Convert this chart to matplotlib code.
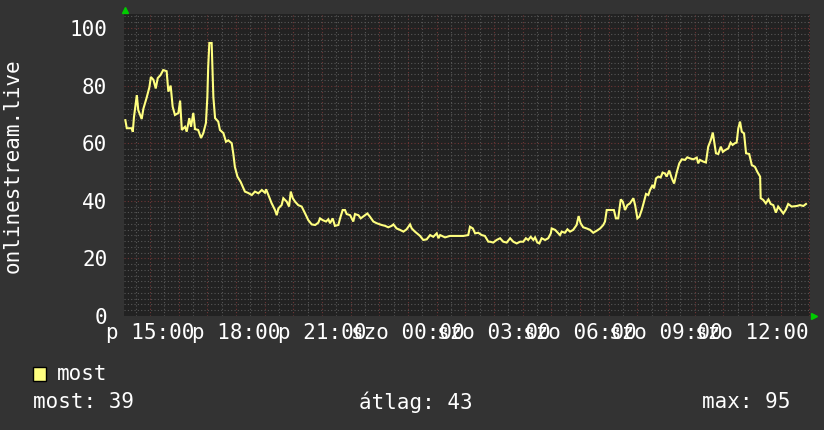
import matplotlib
matplotlib.use("Agg")
import matplotlib.pyplot as plt
from matplotlib.lines import Line2D
from matplotlib.patches import Rectangle
from matplotlib.ticker import MultipleLocator

# hours relative to Friday 15:00
hours = [-0.86, -0.81, -0.64, -0.60, -0.56, -0.46, -0.41, -0.29, -0.23, -0.12, -0.02, 0.03, 0.12, 0.20, 0.27,
         0.37, 0.46, 0.58, 0.64, 0.72, 0.79, 0.87, 0.99, 1.05, 1.11, 1.22, 1.28, 1.37, 1.43, 1.51, 1.57, 1.68,
         1.78, 1.86, 1.95, 2.00, 2.03, 2.07, 2.15, 2.21, 2.27, 2.38, 2.44, 2.56, 2.65, 2.73, 2.85, 2.91, 2.96,
         3.05, 3.16, 3.31, 3.43, 3.55, 3.66, 3.78, 3.90, 4.01, 4.05, 4.13, 4.24, 4.36, 4.42, 4.48, 4.59, 4.65,
         4.77, 4.85, 4.91, 4.98, 5.06, 5.17, 5.29, 5.41, 5.52, 5.64, 5.76, 5.87, 5.93, 6.02, 6.14, 6.22, 6.28,
         6.37, 6.45, 6.57, 6.63, 6.72, 6.80, 6.86, 6.98, 7.09, 7.15, 7.27, 7.35, 7.58, 7.67, 7.79, 7.91, 8.08,
         8.20, 8.31, 8.43, 8.49, 8.60, 8.72, 8.84, 8.95, 9.07, 9.13, 9.24, 9.42, 9.53, 9.65, 9.77, 9.88, 10.00,
         10.06, 10.12, 10.29, 10.46, 10.70, 10.93, 11.10, 11.16, 11.26, 11.34, 11.45, 11.57, 11.68, 11.80,
         11.86, 11.97, 12.09, 12.21, 12.32, 12.44, 12.56, 12.67, 12.79, 12.91, 13.02, 13.11, 13.19, 13.28,
         13.37, 13.43, 13.51, 13.58, 13.66, 13.78, 13.89, 13.98, 14.01, 14.13, 14.24, 14.30, 14.36, 14.47,
         14.56, 14.65, 14.76, 14.88, 14.95, 15.02, 15.11, 15.23, 15.35, 15.46, 15.58, 15.70, 15.81, 15.87,
         15.93, 16.04, 16.14, 16.18, 16.25, 16.33, 16.42, 16.49, 16.57, 16.65, 16.74, 16.86, 16.92, 17.00,
         17.07, 17.15, 17.23, 17.30, 17.38, 17.44, 17.53, 17.58, 17.65, 17.73, 17.81, 17.88, 17.96, 18.02,
         18.11, 18.20, 18.28, 18.37, 18.46, 18.55, 18.66, 18.74, 18.84, 18.95, 19.07, 19.12, 19.18, 19.30,
         19.39, 19.47, 19.56, 19.63, 19.67, 19.74, 19.82, 19.91, 19.98, 20.06, 20.17, 20.25, 20.32, 20.40,
         20.46, 20.52, 20.58, 20.64, 20.72, 20.79, 20.90, 20.99, 21.10, 21.18, 21.28, 21.30, 21.39, 21.48,
         21.57, 21.65, 21.74, 21.83, 21.91, 22.00, 22.09, 22.18, 22.26, 22.38, 22.56, 22.67, 22.79, 22.88]

values = [68, 65.2, 65.2, 64, 69, 76.7, 71.5, 68.4, 72, 75.7, 79.5, 83, 82, 79, 82.6,
          83.7, 85.4, 85, 77.9, 80, 72.7, 69.8, 70.5, 74.8, 64.6, 65.7, 64, 68.7, 65.7, 70.5, 64.9, 64.6,
          61.8, 63.5, 67, 76, 86.6, 94.8, 94.8, 76, 68.7, 67.5, 64.6, 63.5, 60.5, 61, 60, 56, 51.8,
          48.4, 46.6, 43.2, 42.7, 42, 43.2, 42.6, 43.75, 42.8, 44, 42, 39.2, 36.8, 35, 37.4, 38.5, 40.9,
          39.7, 38, 43.2, 40.9, 39.7, 38.5, 38, 35.6, 33.3, 31.8, 31.6, 32.4, 33.9, 33.3, 32.8, 33.6, 32.2,
          33.9, 31.3, 31.6, 33.9, 36.8, 36.8, 35.4, 35, 32.8, 35.4, 35, 33.9, 35.6, 34.5, 32.8, 32.2, 31.6,
          31.3, 30.8, 31.3, 31.8, 30.4, 29.9, 29.3, 30.1, 31.8, 30.4, 29.3, 27.8, 26.4, 26.6, 28.1, 27.5, 28.7,
          27, 28.1, 27.3, 27.8, 27.8, 27.8, 28.1, 31, 30.4, 28.7, 28.9, 28.1, 27.8, 25.8,
          25.8, 25.5, 26.4, 27, 25.8, 25.5, 27, 25.8, 25.2, 25.8, 25.8, 27, 26.4, 27.5,
          26.4, 27.3, 25.5, 25.2, 27, 26.4, 27, 28.7, 30.4, 29.9, 28.7, 28.1, 29.3, 28.9,
          30.1, 29.3, 29.9, 31.6, 34.7, 32.2, 30.8, 30.4, 29.9, 28.9, 29.6, 30.4, 31.6, 32.8,
          36.8, 36.8, 36.8, 36.8, 33.9, 33.9, 40.5, 39.7, 36.8, 38.5, 39.1, 40.9, 38.5, 33.9,
          34.5, 36.8, 39.7, 42.4, 42, 43.75, 45.5, 44.3, 47.8, 48.4, 48.1, 49.8, 49.5, 48.4,
          50.5, 47.8, 46, 49.8, 53, 54.4, 54.2, 55.1, 54.7, 54.4, 55, 53, 54.2, 53.6,
          53.3, 58.8, 61.1, 63.7, 61.1, 56.5, 56.25, 58.8, 57, 57.6, 58.2, 60.2, 59.4, 60,
          60.2, 65.2, 67.5, 64, 63.4, 56.5, 56.25, 52.4, 51.8, 50.1, 48.4, 40.9, 40.3, 39.1,
          40.5, 38.9, 38.5, 35.9, 38, 36.8, 35.6, 37, 38.9, 38, 38.2, 38.5, 38.2, 38.9]

tick_hours = [0, 3, 6, 9, 12, 15, 18, 21]
tick_labels = ["p 15:00", "p 18:00", "p 21:00", "szo 00:00", "szo 03:00",
               "szo 06:00", "szo 09:00", "szo 12:00"]
y_ticks = [0, 20, 40, 60, 80, 100]
legend_name = "most"
stat_texts = ["most: 39", "átlag: 43", "max: 95"]
y_title = "onlinestream.live"

W, H = 824, 430
BG = "#333333"
PLOT_BG = "#222222"
LINE = "#ffff80"
MINOR = "#575757"
MAJOR = "#6e3636"
FONT = "DejaVu Sans Mono"
FS = 15

fig = plt.figure(figsize=(W / 100, H / 100), dpi=100, facecolor=BG)
ax = fig.add_axes([124 / W, 1 - 316 / H, 686 / W, 302.4 / H], facecolor=PLOT_BG)
ax.set_xlim(-0.907, 23.02)
ax.set_ylim(0, 105)

# grid
for i in range(-1, 47):
    h = i * 0.5
    if -0.907 < h < 23.02:
        major = i % 2 == 0
        ax.axvline(h, color=MAJOR if major else MINOR, lw=0.8,
                   ls=(0, (1, 2)), zorder=1)
for v in range(2, 105, 2):
    major = v % 20 == 0
    ax.axhline(v, color=MAJOR if major else MINOR, lw=0.8,
               ls=(0, (1, 2)), zorder=1)

ax.plot(hours, values, color=LINE, lw=1.5, zorder=3, solid_joinstyle="miter")

ax.set_xticks(tick_hours)
ax.set_xticklabels(tick_labels)
ax.set_yticks(y_ticks)
ax.set_yticklabels([str(t) for t in y_ticks])
ax.tick_params(axis="both", length=0, colors="white", labelsize=FS)
ax.tick_params(axis="x", pad=5)
ax.tick_params(axis="y", pad=12)
for lab in ax.get_xticklabels() + ax.get_yticklabels():
    lab.set_fontfamily(FONT)
for s in ax.spines.values():
    s.set_visible(False)

fig.text(13 / W, 1 - 166 / H, y_title, rotation=90, ha="center", va="center",
         color="white", fontsize=FS, family=FONT)

# green arrows
fig.add_artist(Line2D([125 / W], [1 - 10 / H], marker="^", color="#00cc00",
                      markersize=4, transform=fig.transFigure))
fig.add_artist(Line2D([814 / W], [1 - 316 / H], marker=">", color="#00cc00",
                      markersize=4, transform=fig.transFigure))

# legend
fig.add_artist(Rectangle((33 / W, 1 - 381 / H), 13 / W, 14 / H, facecolor=LINE,
                         edgecolor="black", lw=1, transform=fig.transFigure))
fig.text(57 / W, 1 - 374 / H, legend_name, ha="left", va="center", color="white",
         fontsize=FS, family=FONT)
for x, t in zip([33, 359, 702], stat_texts):
    fig.text(x / W, 1 - 402 / H, t, ha="left", va="center", color="white",
             fontsize=FS, family=FONT)

fig.savefig("out.png", dpi=100, facecolor=BG)
